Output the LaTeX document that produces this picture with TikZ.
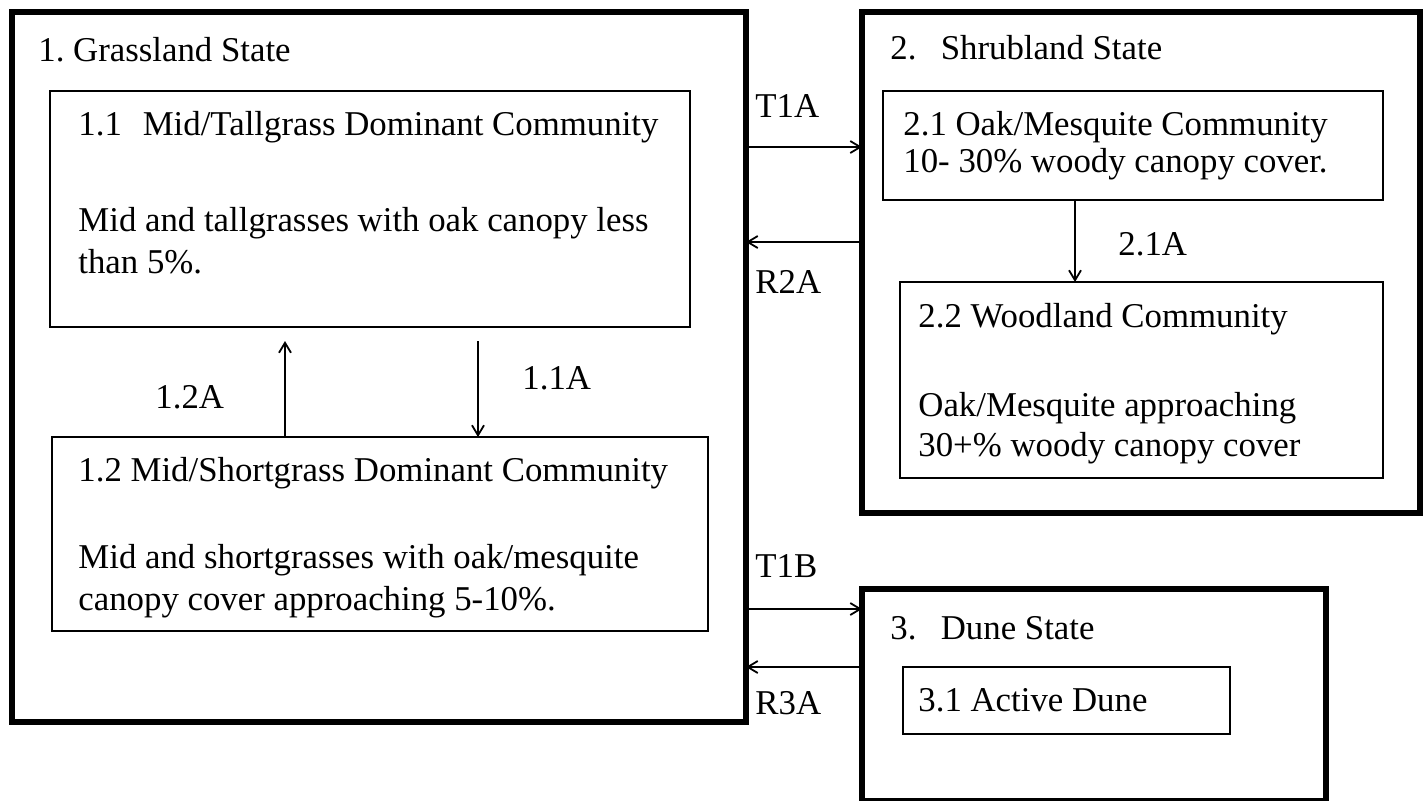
\documentclass[tikz,border=0pt]{standalone}
\usepackage{fontspec}
\setmainfont{Liberation Serif}
\usetikzlibrary{arrows.meta}
\begin{document}
\begin{tikzpicture}[x=0.5pt,y=-0.5pt,
  statebox/.style={draw,line width=2.6pt,anchor=north west,inner sep=0pt,outer sep=0pt},
  commbox/.style={draw,line width=1pt,anchor=north west,inner sep=0pt,outer sep=0pt},
  txt/.style={anchor=base west,inner sep=0pt,font=\fontsize{17.4}{21}\selectfont},
  arr/.style={line width=0.9pt,-{Straight Barb[length=5pt,width=6pt]}}]
\useasboundingbox (0,0) rectangle (1428,800);
% State boxes
\node[statebox,minimum width=367pt,minimum height=355pt] (g) at (12,12) {};
\node[statebox,minimum width=279pt,minimum height=250.5pt] (s) at (862,12) {};
\node[statebox,minimum width=232pt,minimum height=106pt] (d) at (862,589) {};
% Community boxes
\node[commbox,minimum width=320pt,minimum height=118pt] (g11) at (50,91) {};
\node[commbox,minimum width=328pt,minimum height=97pt] (g12) at (52,437) {};
\node[commbox,minimum width=250pt,minimum height=54.5pt] (s21) at (883,91) {};
\node[commbox,minimum width=241.5pt,minimum height=98pt] (s22) at (900,282) {};
\node[commbox,minimum width=163.5pt,minimum height=33.5pt] (d31) at (903,667) {};
% Texts
\node[txt] (tg) at (38,61) {1.\ Grassland State};
\node[txt] (t11) at (78,135) {1.1\hspace{0.6em}Mid/Tallgrass Dominant Community};
\node[txt] (t11a) at (78,231) {Mid and tallgrasses with oak canopy less};
\node[txt] (t11b) at (78,273) {than 5\%.};
\node[txt] (t12) at (78,481) {1.2 Mid/Shortgrass Dominant Community};
\node[txt] (t12a) at (78,568) {Mid and shortgrasses with oak/mesquite};
\node[txt] (t12b) at (78,610) {canopy cover approaching 5-10\%.};
\node[txt] (ts) at (890,59) {2.\hspace{0.7em}Shrubland State};
\node[txt] (t21) at (903,135) {2.1 Oak/Mesquite Community};
\node[txt] (t21a) at (903,172) {10- 30\% woody canopy cover.};
\node[txt] (t22) at (918,327) {2.2 Woodland Community};
\node[txt] (t22a) at (918,416) {Oak/Mesquite approaching};
\node[txt] (t22b) at (918,456) {30+\% woody canopy cover};
\node[txt] (td) at (890,639) {3.\hspace{0.7em}Dune State};
\node[txt] (t31) at (918,711) {3.1 Active Dune};
% Transition labels
\node[txt] (l12) at (155,408) {1.2A};
\node[txt] (l11) at (522,389) {1.1A};
\node[txt] (l21) at (1118,255) {2.1A};
\node[txt] (lt1a) at (755,117) {T1A};
\node[txt] (lr2a) at (755,293) {R2A};
\node[txt] (lt1b) at (755,577) {T1B};
\node[txt] (lr3a) at (755,714) {R3A};
% Arrows
\draw[arr,shorten >=7pt] (g12.north -| 285,0) -- (g11.south -| 285,0);
\draw[arr,shorten <=7pt] (g11.south -| 478,0) -- (g12.north -| 478,0);
\draw[arr] (s21.south -| 1075,0) -- (s22.north -| 1075,0);
\draw[arr] (g.east |- 0,147) -- (s.west |- 0,147);
\draw[arr] (s.west |- 0,242) -- (g.east |- 0,242);
\draw[arr] (g.east |- 0,609) -- (d.west |- 0,609);
\draw[arr] (d.west |- 0,667) -- (g.east |- 0,667);
\end{tikzpicture}
\end{document}
